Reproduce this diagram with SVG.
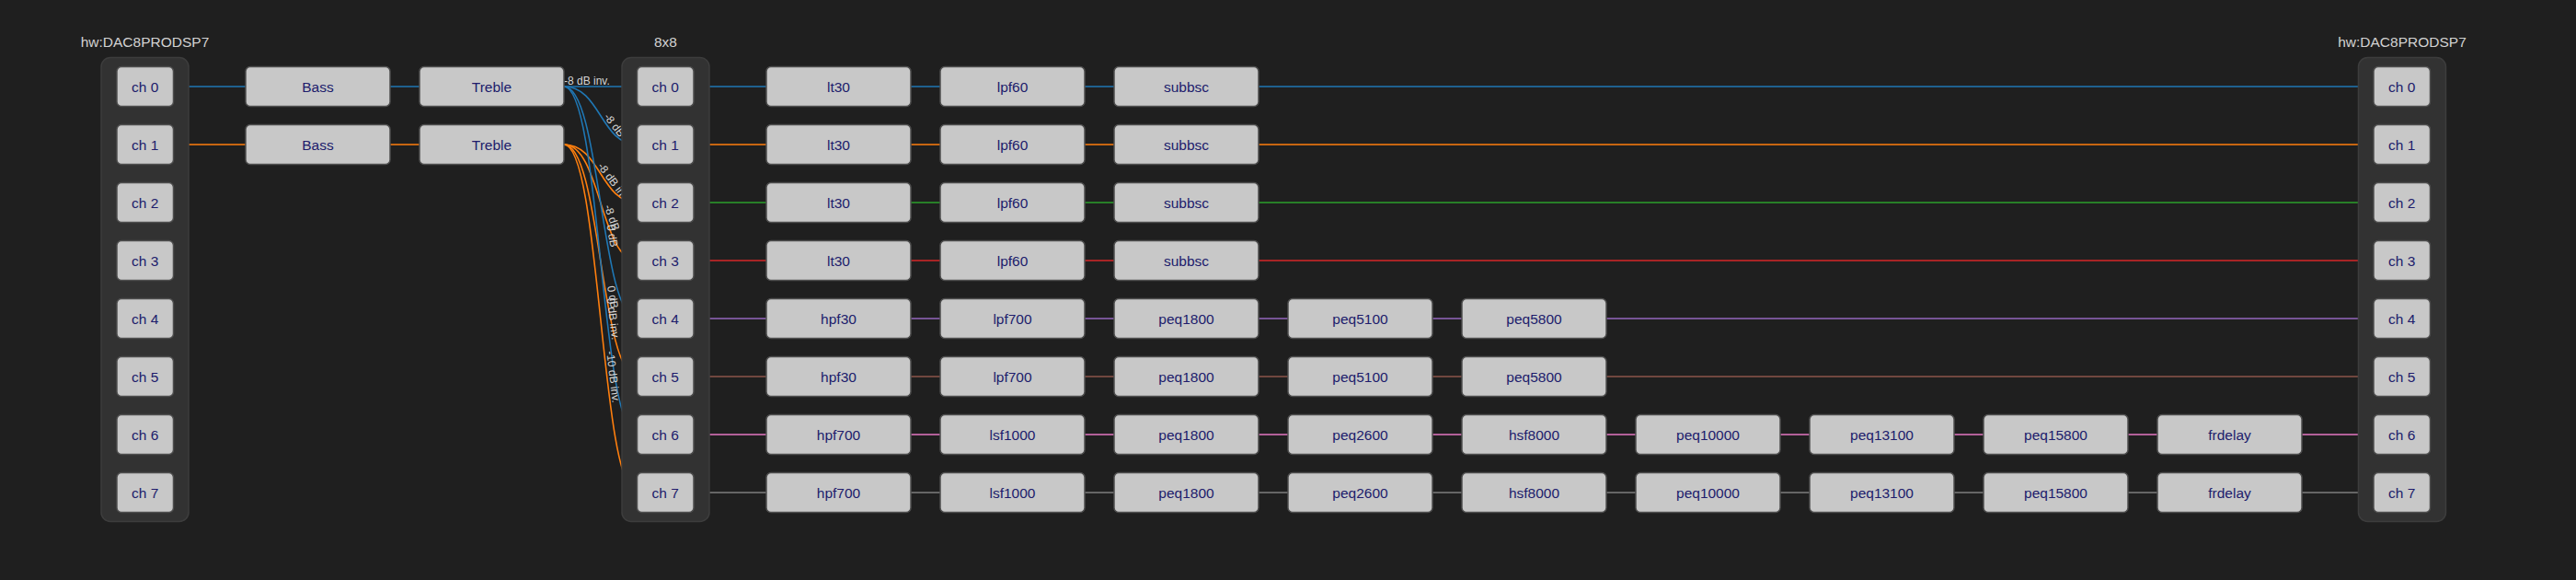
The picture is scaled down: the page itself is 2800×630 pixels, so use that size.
<svg xmlns="http://www.w3.org/2000/svg" width="2800" height="630" viewBox="0 0 2800 630">
<style>
.bg{fill:#1f1f1f}
.box{fill:#323232;stroke:#3d3d3d;stroke-width:1.5}
.title{font-family:"Liberation Sans",Arial,sans-serif;font-size:15.5px;fill:#d2d2d2;text-anchor:middle}
.n rect{fill:#c8c8c8;stroke:#4e4e4e;stroke-width:1.5}
.n text{font-family:"Liberation Sans",Arial,sans-serif;font-size:15.5px;fill:#201c6c;text-anchor:middle}
.e{fill:none;stroke-width:1.6}
.c0{stroke:#1f77b4}.c1{stroke:#ff7f0e}.c2{stroke:#2ca02c}.c3{stroke:#d62728}
.c4{stroke:#9467bd}.c5{stroke:#8c564b}.c6{stroke:#e377c2}.c7{stroke:#7f7f7f}
.lbl{font-family:"Liberation Sans",Arial,sans-serif;font-size:12px;fill:#d6d6d6;text-anchor:middle}
</style>
<rect class="bg" x="0" y="0" width="2800" height="630"/>

<g id="connectors">
  <!-- row 0 -->
  <path class="e c0" d="M188.5,94H267M424,94H456"/>
  <path class="e c0" d="M754,94H833M990,94H1022M1179,94H1211M1368,94H2580"/>
  <!-- row 1 -->
  <path class="e c1" d="M188.5,157H267M424,157H456"/>
  <path class="e c1" d="M754,157H833M990,157H1022M1179,157H1211M1368,157H2580"/>
  <!-- row 2 -->
  <path class="e c2" d="M754,220H833M990,220H1022M1179,220H1211M1368,220H2580"/>
  <!-- row 3 -->
  <path class="e c3" d="M754,283H833M990,283H1022M1179,283H1211M1368,283H2580"/>
  <!-- row 4 -->
  <path class="e c4" d="M754,346H833M990,346H1022M1179,346H1211M1368,346H1400M1557,346H1589M1746,346H2580"/>
  <!-- row 5 -->
  <path class="e c5" d="M754,409H833M990,409H1022M1179,409H1211M1368,409H1400M1557,409H1589M1746,409H2580"/>
  <!-- row 6 -->
  <path class="e c6" d="M754,472H833M990,472H1022M1179,472H1211M1368,472H1400M1557,472H1589M1746,472H1778M1935,472H1967M2124,472H2156M2313,472H2345M2502,472H2580"/>
  <!-- row 7 -->
  <path class="e c7" d="M754,535H833M990,535H1022M1179,535H1211M1368,535H1400M1557,535H1589M1746,535H1778M1935,535H1967M2124,535H2156M2313,535H2345M2502,535H2580"/>
  <!-- mixer: Treble outputs to 8x8 inputs -->
  <path class="e c0" d="M613,94C652.75,94 652.75,94 692.5,94"/>
  <path class="e c0" d="M613,94C652.75,94 652.75,157 692.5,157"/>
  <path class="e c1" d="M613,157C652.75,157 652.75,220 692.5,220"/>
  <path class="e c1" d="M613,157C652.75,157 652.75,283 692.5,283"/>
  <path class="e c0" d="M613,94C652.75,94 652.75,346 692.5,346"/>
  <path class="e c1" d="M613,157C652.75,157 652.75,409 692.5,409"/>
  <path class="e c0" d="M613,94C652.75,94 652.75,472 692.5,472"/>
  <path class="e c1" d="M613,157C652.75,157 652.75,535 692.5,535"/>
  <g id="edge-labels">
    <text class="lbl" x="613" y="91.5" style="text-anchor:start">-8 dB inv.</text>
    <text class="lbl" transform="translate(662.3,140.1) rotate(52.4)" y="-3">-8 dB</text>
    <text class="lbl" transform="translate(661.7,202.3) rotate(53.1)" y="-3">-8 dB inv.</text>
    <text class="lbl" transform="translate(658.5,238.6) rotate(71.2)" y="-3">-8 dB</text>
    <text class="lbl" transform="translate(658.5,257.3) rotate(80.4)" y="-3">0 dB</text>
    <text class="lbl" transform="translate(659.1,323.9) rotate(80.2)" y="-3">0 dB</text>
    <text class="lbl" transform="translate(659.5,347.1) rotate(83.4)" y="-3">0 dB inv.</text>
    <text class="lbl" transform="translate(659.5,410.1) rotate(83.4)" y="-3">-10 dB inv.</text>
  </g>
</g>

<g id="src">
  <text class="title" x="157.5" y="50.5">hw:DAC8PRODSP7</text>
  <rect class="box" x="110" y="62.5" width="95" height="504" rx="10"/>
  <g id="src-ch0" class="n"><rect x="127" y="72.5" width="61.5" height="43" rx="5"/><text x="157.75" y="99.5">ch 0</text></g>
  <g id="src-ch1" class="n"><rect x="127" y="135.5" width="61.5" height="43" rx="5"/><text x="157.75" y="162.5">ch 1</text></g>
  <g id="src-ch2" class="n"><rect x="127" y="198.5" width="61.5" height="43" rx="5"/><text x="157.75" y="225.5">ch 2</text></g>
  <g id="src-ch3" class="n"><rect x="127" y="261.5" width="61.5" height="43" rx="5"/><text x="157.75" y="288.5">ch 3</text></g>
  <g id="src-ch4" class="n"><rect x="127" y="324.5" width="61.5" height="43" rx="5"/><text x="157.75" y="351.5">ch 4</text></g>
  <g id="src-ch5" class="n"><rect x="127" y="387.5" width="61.5" height="43" rx="5"/><text x="157.75" y="414.5">ch 5</text></g>
  <g id="src-ch6" class="n"><rect x="127" y="450.5" width="61.5" height="43" rx="5"/><text x="157.75" y="477.5">ch 6</text></g>
  <g id="src-ch7" class="n"><rect x="127" y="513.5" width="61.5" height="43" rx="5"/><text x="157.75" y="540.5">ch 7</text></g>
</g>

<g id="bass0" class="n"><rect x="267" y="72.5" width="157" height="43" rx="5"/><text x="345.5" y="99.5">Bass</text></g>
<g id="treble0" class="n"><rect x="456" y="72.5" width="157" height="43" rx="5"/><text x="534.5" y="99.5">Treble</text></g>
<g id="bass1" class="n"><rect x="267" y="135.5" width="157" height="43" rx="5"/><text x="345.5" y="162.5">Bass</text></g>
<g id="treble1" class="n"><rect x="456" y="135.5" width="157" height="43" rx="5"/><text x="534.5" y="162.5">Treble</text></g>

<g id="mixer">
  <text class="title" x="723.5" y="50.5">8x8</text>
  <rect class="box" x="676" y="62.5" width="95" height="504" rx="10"/>
  <g id="mix-ch0" class="n"><rect x="692.5" y="72.5" width="61.5" height="43" rx="5"/><text x="723.25" y="99.5">ch 0</text></g>
  <g id="mix-ch1" class="n"><rect x="692.5" y="135.5" width="61.5" height="43" rx="5"/><text x="723.25" y="162.5">ch 1</text></g>
  <g id="mix-ch2" class="n"><rect x="692.5" y="198.5" width="61.5" height="43" rx="5"/><text x="723.25" y="225.5">ch 2</text></g>
  <g id="mix-ch3" class="n"><rect x="692.5" y="261.5" width="61.5" height="43" rx="5"/><text x="723.25" y="288.5">ch 3</text></g>
  <g id="mix-ch4" class="n"><rect x="692.5" y="324.5" width="61.5" height="43" rx="5"/><text x="723.25" y="351.5">ch 4</text></g>
  <g id="mix-ch5" class="n"><rect x="692.5" y="387.5" width="61.5" height="43" rx="5"/><text x="723.25" y="414.5">ch 5</text></g>
  <g id="mix-ch6" class="n"><rect x="692.5" y="450.5" width="61.5" height="43" rx="5"/><text x="723.25" y="477.5">ch 6</text></g>
  <g id="mix-ch7" class="n"><rect x="692.5" y="513.5" width="61.5" height="43" rx="5"/><text x="723.25" y="540.5">ch 7</text></g>
</g>

<!-- rows 0-3 -->
<g id="r0-lt30" class="n"><rect x="833" y="72.5" width="157" height="43" rx="5"/><text x="911.5" y="99.5">lt30</text></g>
<g id="r0-lpf60" class="n"><rect x="1022" y="72.5" width="157" height="43" rx="5"/><text x="1100.5" y="99.5">lpf60</text></g>
<g id="r0-subbsc" class="n"><rect x="1211" y="72.5" width="157" height="43" rx="5"/><text x="1289.5" y="99.5">subbsc</text></g>
<g id="r1-lt30" class="n"><rect x="833" y="135.5" width="157" height="43" rx="5"/><text x="911.5" y="162.5">lt30</text></g>
<g id="r1-lpf60" class="n"><rect x="1022" y="135.5" width="157" height="43" rx="5"/><text x="1100.5" y="162.5">lpf60</text></g>
<g id="r1-subbsc" class="n"><rect x="1211" y="135.5" width="157" height="43" rx="5"/><text x="1289.5" y="162.5">subbsc</text></g>
<g id="r2-lt30" class="n"><rect x="833" y="198.5" width="157" height="43" rx="5"/><text x="911.5" y="225.5">lt30</text></g>
<g id="r2-lpf60" class="n"><rect x="1022" y="198.5" width="157" height="43" rx="5"/><text x="1100.5" y="225.5">lpf60</text></g>
<g id="r2-subbsc" class="n"><rect x="1211" y="198.5" width="157" height="43" rx="5"/><text x="1289.5" y="225.5">subbsc</text></g>
<g id="r3-lt30" class="n"><rect x="833" y="261.5" width="157" height="43" rx="5"/><text x="911.5" y="288.5">lt30</text></g>
<g id="r3-lpf60" class="n"><rect x="1022" y="261.5" width="157" height="43" rx="5"/><text x="1100.5" y="288.5">lpf60</text></g>
<g id="r3-subbsc" class="n"><rect x="1211" y="261.5" width="157" height="43" rx="5"/><text x="1289.5" y="288.5">subbsc</text></g>

<!-- rows 4-5 -->
<g id="r4-hpf30" class="n"><rect x="833" y="324.5" width="157" height="43" rx="5"/><text x="911.5" y="351.5">hpf30</text></g>
<g id="r4-lpf700" class="n"><rect x="1022" y="324.5" width="157" height="43" rx="5"/><text x="1100.5" y="351.5">lpf700</text></g>
<g id="r4-peq1800" class="n"><rect x="1211" y="324.5" width="157" height="43" rx="5"/><text x="1289.5" y="351.5">peq1800</text></g>
<g id="r4-peq5100" class="n"><rect x="1400" y="324.5" width="157" height="43" rx="5"/><text x="1478.5" y="351.5">peq5100</text></g>
<g id="r4-peq5800" class="n"><rect x="1589" y="324.5" width="157" height="43" rx="5"/><text x="1667.5" y="351.5">peq5800</text></g>
<g id="r5-hpf30" class="n"><rect x="833" y="387.5" width="157" height="43" rx="5"/><text x="911.5" y="414.5">hpf30</text></g>
<g id="r5-lpf700" class="n"><rect x="1022" y="387.5" width="157" height="43" rx="5"/><text x="1100.5" y="414.5">lpf700</text></g>
<g id="r5-peq1800" class="n"><rect x="1211" y="387.5" width="157" height="43" rx="5"/><text x="1289.5" y="414.5">peq1800</text></g>
<g id="r5-peq5100" class="n"><rect x="1400" y="387.5" width="157" height="43" rx="5"/><text x="1478.5" y="414.5">peq5100</text></g>
<g id="r5-peq5800" class="n"><rect x="1589" y="387.5" width="157" height="43" rx="5"/><text x="1667.5" y="414.5">peq5800</text></g>

<!-- rows 6-7 -->
<g id="r6-hpf700" class="n"><rect x="833" y="450.5" width="157" height="43" rx="5"/><text x="911.5" y="477.5">hpf700</text></g>
<g id="r6-lsf1000" class="n"><rect x="1022" y="450.5" width="157" height="43" rx="5"/><text x="1100.5" y="477.5">lsf1000</text></g>
<g id="r6-peq1800" class="n"><rect x="1211" y="450.5" width="157" height="43" rx="5"/><text x="1289.5" y="477.5">peq1800</text></g>
<g id="r6-peq2600" class="n"><rect x="1400" y="450.5" width="157" height="43" rx="5"/><text x="1478.5" y="477.5">peq2600</text></g>
<g id="r6-hsf8000" class="n"><rect x="1589" y="450.5" width="157" height="43" rx="5"/><text x="1667.5" y="477.5">hsf8000</text></g>
<g id="r6-peq10000" class="n"><rect x="1778" y="450.5" width="157" height="43" rx="5"/><text x="1856.5" y="477.5">peq10000</text></g>
<g id="r6-peq13100" class="n"><rect x="1967" y="450.5" width="157" height="43" rx="5"/><text x="2045.5" y="477.5">peq13100</text></g>
<g id="r6-peq15800" class="n"><rect x="2156" y="450.5" width="157" height="43" rx="5"/><text x="2234.5" y="477.5">peq15800</text></g>
<g id="r6-frdelay" class="n"><rect x="2345" y="450.5" width="157" height="43" rx="5"/><text x="2423.5" y="477.5">frdelay</text></g>
<g id="r7-hpf700" class="n"><rect x="833" y="513.5" width="157" height="43" rx="5"/><text x="911.5" y="540.5">hpf700</text></g>
<g id="r7-lsf1000" class="n"><rect x="1022" y="513.5" width="157" height="43" rx="5"/><text x="1100.5" y="540.5">lsf1000</text></g>
<g id="r7-peq1800" class="n"><rect x="1211" y="513.5" width="157" height="43" rx="5"/><text x="1289.5" y="540.5">peq1800</text></g>
<g id="r7-peq2600" class="n"><rect x="1400" y="513.5" width="157" height="43" rx="5"/><text x="1478.5" y="540.5">peq2600</text></g>
<g id="r7-hsf8000" class="n"><rect x="1589" y="513.5" width="157" height="43" rx="5"/><text x="1667.5" y="540.5">hsf8000</text></g>
<g id="r7-peq10000" class="n"><rect x="1778" y="513.5" width="157" height="43" rx="5"/><text x="1856.5" y="540.5">peq10000</text></g>
<g id="r7-peq13100" class="n"><rect x="1967" y="513.5" width="157" height="43" rx="5"/><text x="2045.5" y="540.5">peq13100</text></g>
<g id="r7-peq15800" class="n"><rect x="2156" y="513.5" width="157" height="43" rx="5"/><text x="2234.5" y="540.5">peq15800</text></g>
<g id="r7-frdelay" class="n"><rect x="2345" y="513.5" width="157" height="43" rx="5"/><text x="2423.5" y="540.5">frdelay</text></g>

<g id="sink">
  <text class="title" x="2611" y="50.5">hw:DAC8PRODSP7</text>
  <rect class="box" x="2563.5" y="62.5" width="95" height="504" rx="10"/>
  <g id="sink-ch0" class="n"><rect x="2580" y="72.5" width="61.5" height="43" rx="5"/><text x="2610.75" y="99.5">ch 0</text></g>
  <g id="sink-ch1" class="n"><rect x="2580" y="135.5" width="61.5" height="43" rx="5"/><text x="2610.75" y="162.5">ch 1</text></g>
  <g id="sink-ch2" class="n"><rect x="2580" y="198.5" width="61.5" height="43" rx="5"/><text x="2610.75" y="225.5">ch 2</text></g>
  <g id="sink-ch3" class="n"><rect x="2580" y="261.5" width="61.5" height="43" rx="5"/><text x="2610.75" y="288.5">ch 3</text></g>
  <g id="sink-ch4" class="n"><rect x="2580" y="324.5" width="61.5" height="43" rx="5"/><text x="2610.75" y="351.5">ch 4</text></g>
  <g id="sink-ch5" class="n"><rect x="2580" y="387.5" width="61.5" height="43" rx="5"/><text x="2610.75" y="414.5">ch 5</text></g>
  <g id="sink-ch6" class="n"><rect x="2580" y="450.5" width="61.5" height="43" rx="5"/><text x="2610.75" y="477.5">ch 6</text></g>
  <g id="sink-ch7" class="n"><rect x="2580" y="513.5" width="61.5" height="43" rx="5"/><text x="2610.75" y="540.5">ch 7</text></g>
</g>
</svg>
